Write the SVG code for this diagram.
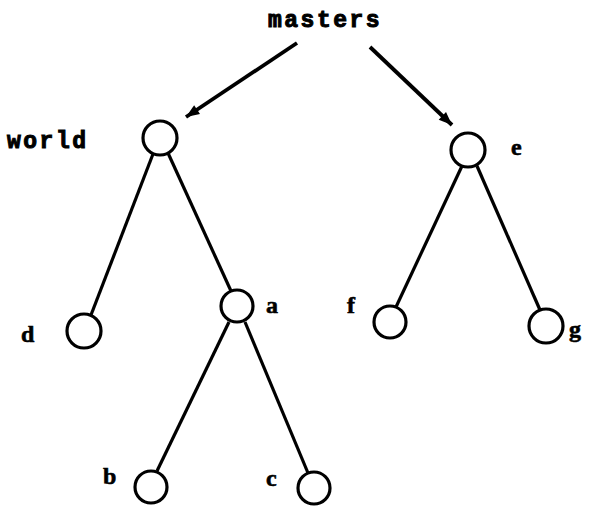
<svg xmlns="http://www.w3.org/2000/svg" width="595" height="510" viewBox="0 0 595 510">
<defs>
<style>
.n{fill:#fff;stroke:#000;stroke-width:3.2}
.e{stroke:#000;stroke-width:3.2;fill:none}
.a{stroke:#000;stroke-width:3.8;fill:none}
.t{font-family:"Liberation Mono",monospace;font-weight:bold;font-size:23px;letter-spacing:2.5px;fill:#000;stroke:#000;stroke-width:1}
.l{font-family:"Liberation Serif",serif;font-weight:bold;font-size:24px;fill:#000;stroke:#000;stroke-width:0.6}
</style>
<marker id="ah" viewBox="0 0 10 10" refX="10" refY="5" markerWidth="7" markerHeight="3.5" markerUnits="strokeWidth" orient="auto">
<path d="M0,1 L10,5 L0,9 Z" fill="#000"/>
</marker>
</defs>
<rect width="595" height="510" fill="#fff"/>
<text class="t" x="268" y="27">masters</text>
<g id="connectors">
<line class="a" x1="297" y1="43" x2="186" y2="117" marker-end="url(#ah)"/>
<line class="a" x1="370" y1="47" x2="452" y2="125" marker-end="url(#ah)"/>
<line class="e" x1="153" y1="154" x2="91" y2="315"/>
<line class="e" x1="168" y1="153" x2="231" y2="291"/>
<line class="e" x1="229" y1="322" x2="157" y2="471"/>
<line class="e" x1="245" y1="322" x2="308" y2="473"/>
<line class="e" x1="462" y1="166" x2="396" y2="307"/>
<line class="e" x1="477" y1="166" x2="540" y2="310"/>
</g>
<g id="world"><circle class="n" cx="160" cy="138" r="17"/><text class="t" x="7" y="148">world</text></g>
<g id="e"><circle class="n" cx="468" cy="150" r="17"/><text class="l" x="511" y="155">e</text></g>
<g id="d"><circle class="n" cx="84" cy="331" r="17"/><text class="l" x="21" y="342">d</text></g>
<g id="a"><circle class="n" cx="237" cy="306" r="16"/><text class="l" x="266" y="313">a</text></g>
<g id="b"><circle class="n" cx="151" cy="487" r="16"/><text class="l" x="103" y="484">b</text></g>
<g id="c"><circle class="n" cx="314" cy="488" r="16"/><text class="l" x="266" y="486">c</text></g>
<g id="f"><circle class="n" cx="390" cy="322" r="16"/><text class="l" x="347" y="313">f</text></g>
<g id="g"><circle class="n" cx="546" cy="326" r="17"/><text class="l" x="569" y="337">g</text></g>
</svg>
